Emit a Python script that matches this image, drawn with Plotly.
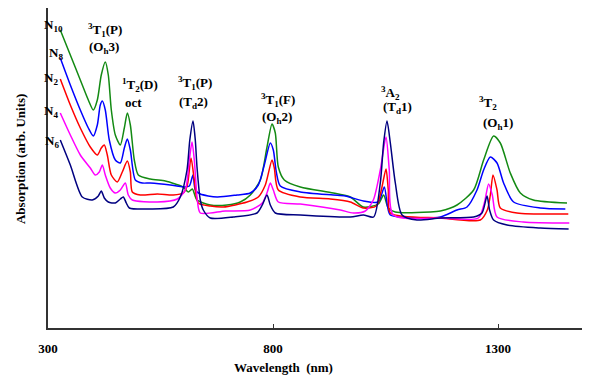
import plotly.graph_objects as go

# ---- data (wavelength in nm, absorption in arb. units) ----
n10_wl = [327.3, 349.6, 371.8, 389.6, 400.7, 409.6, 418.4, 427.3, 434.0, 440.7, 449.6, 460.7, 469.6, 476.3,
          483.0, 491.8, 500.7, 527.3, 560.7, 582.9, 600.7, 611.8, 620.7, 631.1, 660.7, 697.8, 727.3, 749.6,
          771.8, 786.7, 797.8, 805.1, 811.8, 825.1, 860.7, 934.0, 971.8, 1000.7, 1034.0, 1045.8, 1056.2,
          1071.8, 1149.6, 1171.8, 1208.9, 1245.8, 1268.0, 1290.2, 1305.1, 1327.3, 1349.6, 1378.4, 1453.3]
n10_abs = [2.98, 2.73, 2.48, 2.28, 2.18, 2.28, 2.53, 2.66, 2.53, 2.18, 1.93, 1.83, 2.00, 2.15,
           2.03, 1.68, 1.53, 1.49, 1.47, 1.44, 1.41, 1.36, 1.39, 1.28, 1.23, 1.23, 1.26, 1.33,
           1.48, 1.81, 2.04, 1.95, 1.61, 1.48, 1.41, 1.35, 1.31, 1.21, 1.24, 1.33, 1.20,
           1.16, 1.16, 1.17, 1.23, 1.38, 1.68, 1.92, 1.85, 1.55, 1.35, 1.28, 1.25]

n8_wl = [327.3, 349.6, 371.8, 389.6, 400.7, 409.6, 416.2, 420.7, 427.3, 436.2, 449.6, 460.7, 469.6, 476.3,
         483.0, 494.1, 509.6, 527.3, 571.8, 600.7, 614.0, 622.2, 627.3, 638.4, 675.6, 720.0, 749.6, 767.3,
         780.7, 794.0, 800.7, 807.3, 816.2, 860.7, 934.0, 960.7, 1000.7, 1034.0, 1047.3, 1054.0, 1060.7,
         1120.0, 1171.8, 1208.9, 1231.1, 1253.3, 1268.0, 1282.9, 1297.8, 1312.4, 1334.7, 1393.8, 1449.6]
n8_abs = [2.70, 2.43, 2.18, 2.00, 1.92, 2.03, 2.23, 2.27, 2.18, 1.88, 1.68, 1.65, 1.80, 1.89,
          1.78, 1.48, 1.45, 1.45, 1.43, 1.41, 1.42, 1.53, 1.38, 1.34, 1.31, 1.33, 1.35, 1.43,
          1.63, 1.85, 1.78, 1.56, 1.42, 1.36, 1.33, 1.32, 1.27, 1.26, 1.41, 1.23, 1.13,
          1.10, 1.11, 1.18, 1.21, 1.38, 1.58, 1.71, 1.65, 1.45, 1.26, 1.20, 1.19]

n2_wl = [327.3, 349.6, 371.8, 394.0, 409.6, 418.4, 425.1, 431.8, 440.7, 454.0, 465.1, 476.2, 483.0, 487.3,
         505.1, 542.9, 578.4, 600.7, 609.6, 617.8, 625.1, 634.0, 660.7, 689.6, 742.2, 767.3, 782.9, 797.8,
         802.9, 811.8, 860.7, 927.3, 971.8, 1000.7, 1029.6, 1040.7, 1051.1, 1056.2, 1060.7, 1171.8, 1260.7,
         1276.2, 1282.9, 1288.9, 1297.8, 1305.1, 1342.2, 1456.2]
n2_abs = [2.49, 2.23, 2.00, 1.81, 1.73, 1.80, 1.83, 1.73, 1.53, 1.46, 1.56, 1.67, 1.56, 1.36,
          1.33, 1.34, 1.33, 1.35, 1.43, 1.70, 1.48, 1.25, 1.22, 1.21, 1.26, 1.31, 1.43, 1.68,
          1.60, 1.38, 1.31, 1.29, 1.26, 1.20, 1.22, 1.38, 1.59, 1.38, 1.15, 1.10, 1.08,
          1.18, 1.33, 1.53, 1.38, 1.20, 1.15, 1.14]

n4_wl = [327.3, 349.6, 371.8, 394.0, 405.1, 414.0, 420.7, 427.3, 438.4, 449.6, 460.7, 471.8, 478.4, 487.3,
         542.9, 587.3, 605.1, 614.0, 620.0, 625.1, 631.8, 638.4, 694.0, 749.6, 776.2, 787.3, 794.0, 800.7,
         811.8, 860.7, 949.6, 978.4, 1005.1, 1022.9, 1038.4, 1051.1, 1058.4, 1067.3, 1171.8, 1256.2, 1269.6,
         1279.1, 1287.3, 1297.8, 1356.2, 1458.4]
n4_abs = [2.15, 1.93, 1.73, 1.60, 1.53, 1.56, 1.63, 1.53, 1.40, 1.35, 1.38, 1.45, 1.33, 1.28,
          1.26, 1.29, 1.38, 1.68, 1.86, 1.68, 1.28, 1.15, 1.17, 1.18, 1.25, 1.36, 1.45, 1.38,
          1.26, 1.24, 1.18, 1.15, 1.17, 1.28, 1.58, 1.91, 1.58, 1.13, 1.10, 1.10, 1.25,
          1.44, 1.33, 1.11, 1.06, 1.05]

n6_wl = [327.3, 349.6, 376.2, 398.4, 411.8, 418.4, 425.1, 434.0, 449.6, 460.7, 467.3, 474.0, 480.7, 527.3,
         578.4, 594.0, 608.9, 615.1, 622.2, 627.3, 631.1, 638.4, 645.1, 660.7, 711.8, 764.4, 776.2, 786.7,
         794.0, 805.1, 860.7, 971.8, 1000.7, 1023.6, 1038.4, 1045.8, 1053.3, 1060.7, 1071.8, 1086.7, 1120.0,
         1171.8, 1245.8, 1264.4, 1275.6, 1281.3, 1290.2, 1320.0, 1393.8, 1456.9]
n6_abs = [1.88, 1.63, 1.31, 1.28, 1.32, 1.37, 1.30, 1.26, 1.25, 1.29, 1.31, 1.25, 1.20, 1.19,
          1.21, 1.31, 1.58, 1.88, 2.07, 1.88, 1.61, 1.28, 1.18, 1.10, 1.11, 1.15, 1.23, 1.33,
          1.23, 1.15, 1.13, 1.11, 1.13, 1.11, 1.45, 1.85, 2.07, 1.85, 1.45, 1.13, 1.08,
          1.10, 1.11, 1.15, 1.32, 1.18, 1.08, 1.03, 1.00, 0.99]

x_ticks = [300, 800, 1300]
x_range = [300, 1504.4]
y_range = [0, 3.20]

series = [
    (n10_wl, n10_abs, "N10", "#138a13"),
    (n8_wl, n8_abs, "N8", "#0000ff"),
    (n2_wl, n2_abs, "N2", "#ff0000"),
    (n4_wl, n4_abs, "N4", "#ff00ff"),
    (n6_wl, n6_abs, "N6", "#000080"),
]

SERIF = "Liberation Serif, Times New Roman, serif"

fig = go.Figure()
for wl, ab, name, col in series:
    fig.add_trace(go.Scatter(x=wl, y=ab, mode="lines", name=name,
                             line=dict(color=col, width=1.5, shape="spline", smoothing=0.7)))

# peak labels (data coordinates)
peak_labels = [
    ("<sup>3</sup>T<sub>1</sub>(P)", 427.3, 2.98),
    ("(O<sub>h</sub>3)", 425.0, 2.81),
    ("<sup>1</sup>T<sub>2</sub>(D)", 505.0, 2.43),
    ("oct", 489.6, 2.26),
    ("<sup>3</sup>T<sub>1</sub>(P)", 627.3, 2.45),
    ("(T<sub>d</sub>2)", 622.9, 2.26),
    ("<sup>3</sup>T<sub>1</sub>(F)", 811.8, 2.28),
    ("(O<sub>h</sub>2)", 809.6, 2.11),
    ("<sup>3</sup>A<sub>2</sub>", 1060.7, 2.35),
    ("(T<sub>d</sub>1)", 1076.2, 2.21),
    ("<sup>3</sup>T<sub>2</sub>", 1278.4, 2.25),
    ("(O<sub>h</sub>1)", 1300.7, 2.05),
]
for txt, x, y in peak_labels:
    fig.add_annotation(x=x, y=y, xref="x", yref="y", text="<b>" + txt + "</b>",
                       showarrow=False, xanchor="center", yanchor="middle",
                       font=dict(family=SERIF, size=13, color="black"))

# series name labels (paper coordinates)
name_labels = [
    ("N<sub>10</sub>", -0.011, 0.944),
    ("N<sub>8</sub>", -0.002, 0.859),
    ("N<sub>2</sub>", -0.011, 0.781),
    ("N<sub>4</sub>", -0.011, 0.675),
    ("N<sub>6</sub>", -0.009, 0.584),
]
for txt, x, y in name_labels:
    fig.add_annotation(x=x, y=y, xref="paper", yref="paper", text="<b>" + txt + "</b>",
                       showarrow=False, xanchor="left", yanchor="middle",
                       font=dict(family=SERIF, size=13, color="black"))

# axis titles
fig.add_annotation(x=0.434, y=-0.122, xref="paper", yref="paper",
                   text="<b>Wavelength  (nm)</b>", showarrow=False,
                   xanchor="center", yanchor="middle", borderpad=0,
                   font=dict(family=SERIF, size=13, color="black"))
fig.add_annotation(x=-0.0517, y=0.528, xref="paper", yref="paper",
                   text="<b>Absorption (arb. Units)</b>", showarrow=False, textangle=-90,
                   xanchor="center", yanchor="middle",
                   font=dict(family=SERIF, size=13, color="black"))

# the page adds an 8px body margin, so the figure is sized to fit inside the window
fig.update_layout(
    width=582, height=368,
    margin=dict(l=40, r=0, t=0, b=48),
    paper_bgcolor="white", plot_bgcolor="white",
    showlegend=False,
    xaxis=dict(range=x_range, tickvals=x_ticks,
               ticktext=["<b>%d</b>" % v for v in x_ticks],
               ticks="inside", ticklen=4, tickcolor="#333333", tickwidth=1,
               showline=True, linecolor="#333333", linewidth=1.5,
               showgrid=False, zeroline=False, ticklabelstandoff=8,
               tickfont=dict(family=SERIF, size=13, color="black")),
    yaxis=dict(range=y_range, showticklabels=False, ticks="",
               showline=True, linecolor="#333333", linewidth=1.5,
               showgrid=False, zeroline=False),
)

fig.write_html("out.html")
